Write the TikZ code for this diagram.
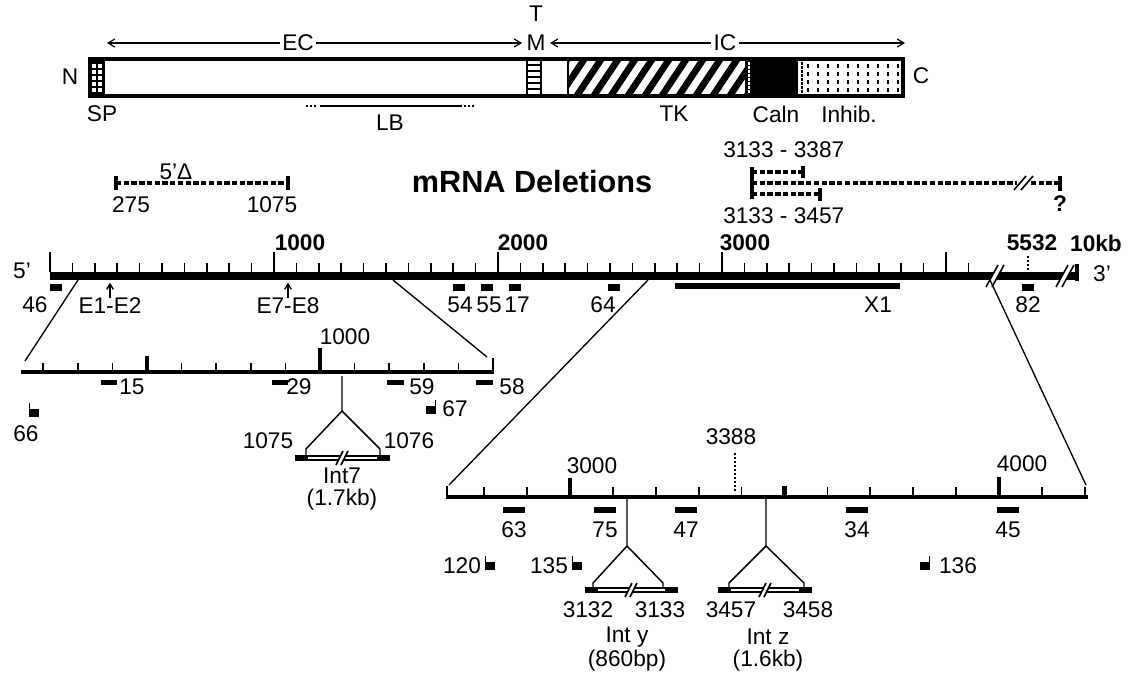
\documentclass[tikz,border=0pt]{standalone}
\usepackage{fontspec}
\setmainfont{Liberation Sans}
\usetikzlibrary{arrows.meta,positioning,calc}
\newcommand{\lblfont}{\fontsize{17}{19}\selectfont}
\tikzset{
  lbl/.style={font=\lblfont, inner sep=0pt},
  scalelbl/.style={font=\lblfont\bfseries, inner sep=0pt},
  titlelbl/.style={font=\fontsize{23}{26}\selectfont\bfseries, inner sep=0pt},
  domainbox/.style={line width=3pt},
  extent/.style={line width=0.9pt, {Straight Barb[length=5pt,width=6pt]}-{Straight Barb[length=5pt,width=6pt]}},
  evarrow/.style={line width=1pt, -{Straight Barb[length=4pt,width=5pt]}},
  delline/.style={line width=2.5pt, dash pattern=on 4pt off 1.8pt},
  delend/.style={line width=2.6pt},
  minortick/.style={line width=1.3pt},
  majortick/.style={line width=3.5pt},
  subbar/.style={line width=3pt},
  zoomline/.style={line width=1pt},
  breakslash/.style={line width=1.2pt},
  junction/.style={line width=1.1pt},
  dotline/.style={line width=1.3pt, dash pattern=on 1.5pt off 1.5pt},
}

\begin{document}
\begin{tikzpicture}[x=0.75pt, y=-0.75pt]
  \useasboundingbox (0,0) rectangle (1129,675);

  % protein domains
  \fill (90,59) rectangle (105,96);
  \foreach \x in {94,100} \foreach \y in {64,70,76,82,88}
    \fill[white] (\x-1.8,\y) rectangle (\x+1.8,\y+3.5);
  \draw[line width=1.5pt] (527,59) -- (527,96) (541,59) -- (541,96);
  \foreach \y in {65,71,77,83,89} \draw[line width=2.2pt] (527,\y) -- (541,\y);
  \begin{scope}
    \clip (568,59) rectangle (747,96);
    \foreach \x in {540,557,...,760} \draw[line width=5pt] (\x,100) -- (\x+30,55);
  \end{scope}
  \draw[line width=1.5pt] (568,59) -- (568,96);
  \fill (745,59) rectangle (798,96);
  \draw[white, line width=0.8pt, dash pattern=on 2pt off 1pt] (749,62) -- (749,93);
  \draw[line width=0.8pt, dash pattern=on 2pt off 1pt] (802,62) -- (802,93);
  \foreach \x in {808,818,...,898} \foreach \y in {64,72,80,88}
    \fill (\x-1,\y) rectangle (\x+1.4,\y+3.8);
  \draw[domainbox] (90,59) rectangle (903,96);

  \node[lbl] (nterm) at (70,77) {N};
  \node[lbl] (cterm) at (921,76) {C};
  \node[lbl] (tmT) at (536,14) {T};
  \node[lbl] (tmM) at (536,43) {M};
  \coordinate (ecL) at (107,43);
  \coordinate (ecR) at (522,43);
  \coordinate (icL) at (550,43);
  \coordinate (icR) at (905,43);
  \draw[extent] (ecL) -- (ecR);
  \draw[extent] (icL) -- (icR);
  \node[lbl, fill=white, inner xsep=2pt] (ec) at (298,43) {EC};
  \node[lbl, fill=white, inner xsep=2pt] (ic) at (725,43) {IC};
  \node[lbl] (sp) at (102,114) {SP};
  \draw[line width=1pt] (320,106) -- (462,106);
  \draw[dotline] (306,106) -- (318,106) (464,106) -- (476,106);
  \node[lbl] (lb) at (390,123) {LB};
  \node[lbl] (tk) at (674,114) {TK};
  \node[lbl] (caln) at (776,114) {Caln};
  \node[lbl] (inhib) at (849,114) {Inhib.};

  % mRNA deletions
  \node[titlelbl] (title) at (532,182) {mRNA Deletions};
  \node[lbl] (fivedel) at (176,172) {5'Δ};
  \draw[delline] (116,183) -- (288,183);
  \draw[delend] (116,176) -- (116,190) (288,176) -- (288,190);
  \node[lbl] (d275) at (131,205) {275};
  \node[lbl] (d1075) at (272,205) {1075};

  \node[lbl, anchor=west] (d3387) at (723,150) {3133 - 3387};
  \node[lbl, anchor=west] (d3457) at (723,216) {3133 - 3457};
  \draw[line width=2.6pt] (752,167) -- (752,199);
  \draw[delline] (752,172) -- (801,172);
  \draw[delend] (803,166) -- (803,178);
  \draw[delline] (752,183) -- (1017,183) (1031,183) -- (1058,183);
  \draw[breakslash] (1014,190) -- (1026,176) (1021,190) -- (1033,176);
  \draw[delend] (1060,176) -- (1060,191);
  \draw[delline] (752,194) -- (818,194);
  \draw[delend] (820,188) -- (820,201);
  \node[scalelbl] (qmark) at (1060,204) {?};

  % genomic map
  \fill (50,272) rectangle (1078,280);
  \foreach \k in {1,...,41} \draw[minortick] ({50+22.4*\k},272) -- ++(0,-9);
  \foreach \k in {0,10,20,30,40} \draw[minortick] ({50+22.4*\k},272) -- ++(0,-20);
  \fill[white] (986,287) -- (998,265) -- (1004,265) -- (992,287) -- cycle;
  \draw[breakslash] (986,287) -- (998,265) (992,287) -- (1004,265);
  \fill[white] (1056,287) -- (1068,265) -- (1074,265) -- (1062,287) -- cycle;
  \draw[breakslash] (1056,287) -- (1068,265) (1062,287) -- (1074,265);
  \draw[line width=2.5pt] (1077,281) -- (1077,264);
  \draw[dotline] (1028,256) -- (1028,270);

  \node[lbl] (fiveprime) at (22,271) {5'};
  \node[lbl] (threeprime) at (1102,274) {3'};
  \node[scalelbl] (m1000) at (300,243) {1000};
  \node[scalelbl] (m2000) at (523,243) {2000};
  \node[scalelbl] (m3000) at (745,243) {3000};
  \node[scalelbl] (m5532) at (1032,243) {5532};
  \node[scalelbl] (m10kb) at (1096,243) {10kb};

  \foreach \x/\lx/\t in {56/35/46, 459/460/54, 487/489/55, 515/517/17, 614/603/64, 1028/1028/82} {
    \fill (\x-6,284) rectangle (\x+6,291);
    \node[lbl] (p\t) at (\lx,305) {\t};
  }
  \fill (675,283) rectangle (900,289);
  \node[lbl] (x1) at (878,305) {X1};
  \node[lbl] (e12) at (110,306) {E1-E2};
  \node[lbl] (e78) at (288,306) {E7-E8};
  \draw[evarrow] (e12.north) -- ++(0,-15);
  \draw[evarrow] (e78.north) -- ++(0,-15);

  % expansion, 5' part
  \coordinate (zaTop) at (78,280);
  \coordinate (zaBot) at (25,361);
  \coordinate (zbTop) at (393,280);
  \coordinate (zbBot) at (487,357);
  \draw[zoomline] (zaTop) -- (zaBot);
  \draw[zoomline] (zbTop) -- (zbBot);
  \draw[subbar] (21,372) -- (494,372);
  \foreach \k in {2,...,14} \draw[minortick] ({320+34.6*(\k-10)},372) -- ++(0,-9);
  \draw[minortick] (493,373) -- (493,358);
  \draw[majortick] (147,372) -- (147,356);
  \draw[majortick] (320,372) -- (320,348);
  \node[lbl] (s1000) at (345,337) {1000};
  \foreach \a/\b/\t/\lx in {101/117/15/132, 272/288/29/299, 387/404/59/422, 476/493/58/512} {
    \fill (\a,380) rectangle (\b,385);
    \node[lbl] (s\t) at (\lx,387) {\t};
  }

  % junction clones
  \foreach \x/\y in {29/417, 485/570, 572/570} {
    \fill (\x,\y) rectangle ++(10,-8);
    \draw[line width=1.1pt] (\x+0.6,\y) -- ++(0,-14);
  }
  \foreach \x/\y in {426/414, 920/570} {
    \fill (\x,\y) rectangle ++(10,-8);
    \draw[line width=1.1pt] (\x+9.4,\y) -- ++(0,-14);
  }
  \node[lbl] (c66) at (26,434) {66};
  \node[lbl] (c67) at (455,409) {67};
  \node[lbl] (c120) at (462,566) {120};
  \node[lbl] (c135) at (549,566) {135};
  \node[lbl] (c136) at (958,566) {136};

  % introns
  \foreach \a/\b/\y/\m in {295/390/458/342, 585/678/590/631, 718/812/590/765} {
    \draw[line width=5pt] (\a,\y) -- (\b,\y);
    \draw[white, line width=2pt] (\a+13,\y) -- (\b-13,\y);
    \fill[white] (\m-6,\y+7) -- (\m+1,\y-7) -- (\m+6,\y-7) -- (\m-1,\y+7) -- cycle;
    \draw[breakslash] (\m-6,\y+7) -- (\m+1,\y-7) (\m-1,\y+7) -- (\m+6,\y-7);
  }
  \coordinate (i7top) at (342,376);
  \coordinate (i7apex) at (342,411);
  \coordinate (i7l) at (306,449);
  \coordinate (i7r) at (380,449);
  \draw[junction] (i7top) -- (i7apex) -- (i7l) -- ++(0,6);
  \draw[junction] (i7apex) -- (i7r) -- ++(0,6);
  \node[lbl] (n1075) at (268,441) {1075};
  \node[lbl] (n1076) at (409,441) {1076};
  \node[lbl] (int7) at (342,476) {Int7};
  \node[lbl] (int7len) at (342,500) {(1.7kb)};

  % expansion, X1 region
  \coordinate (zcTop) at (648,280);
  \coordinate (zcBot) at (449,485);
  \coordinate (zdTop) at (990,280);
  \coordinate (zdBot) at (1086,485);
  \draw[zoomline] (zcTop) -- (zcBot);
  \draw[zoomline] (zdTop) -- (zdBot);
  \draw[subbar] (446,497) -- (1088,497);
  \draw[minortick] (447,498) -- (447,486);
  \foreach \k in {-2,...,12} \draw[minortick] ({570+42.9*\k},497) -- ++(0,-10);
  \draw[majortick] (570,497) -- (570,478);
  \draw[majortick] (784.5,497) -- (784.5,486);
  \draw[majortick] (999,497) -- (999,477);
  \draw[dotline] (735,453) -- (735,492);
  \node[lbl] (t3000) at (592,466) {3000};
  \node[lbl] (t4000) at (1022,464) {4000};
  \node[lbl] (t3388) at (731,437) {3388};
  \foreach \x/\t in {514/63, 605/75, 686/47, 857/34, 1008/45} {
    \fill (\x-11,507) rectangle (\x+11,513);
    \node[lbl] (t\t) at (\x,530) {\t};
  }

  \coordinate (iytop) at (627,499);
  \coordinate (iyapex) at (627,546);
  \coordinate (iyl) at (593,583);
  \coordinate (iyr) at (663,583);
  \coordinate (iztop) at (766,499);
  \coordinate (izapex) at (766,546);
  \coordinate (izl) at (729,583);
  \coordinate (izr) at (804,583);
  \draw[junction] (iytop) -- (iyapex) -- (iyl) -- ++(0,4);
  \draw[junction] (iyapex) -- (iyr) -- ++(0,4);
  \draw[junction] (iztop) -- (izapex) -- (izl) -- ++(0,4);
  \draw[junction] (izapex) -- (izr) -- ++(0,4);
  \node[lbl] (n3132) at (588,610) {3132};
  \node[lbl] (n3133) at (660,610) {3133};
  \node[lbl] (n3457) at (731,610) {3457};
  \node[lbl] (n3458) at (808,610) {3458};
  \node[lbl] (inty) at (627,637) {Int y};
  \node[lbl] (intylen) at (627,661) {(860bp)};
  \node[lbl] (intz) at (768,637) {Int z};
  \node[lbl] (intzlen) at (768,661) {(1.6kb)};
\end{tikzpicture}
\end{document}
